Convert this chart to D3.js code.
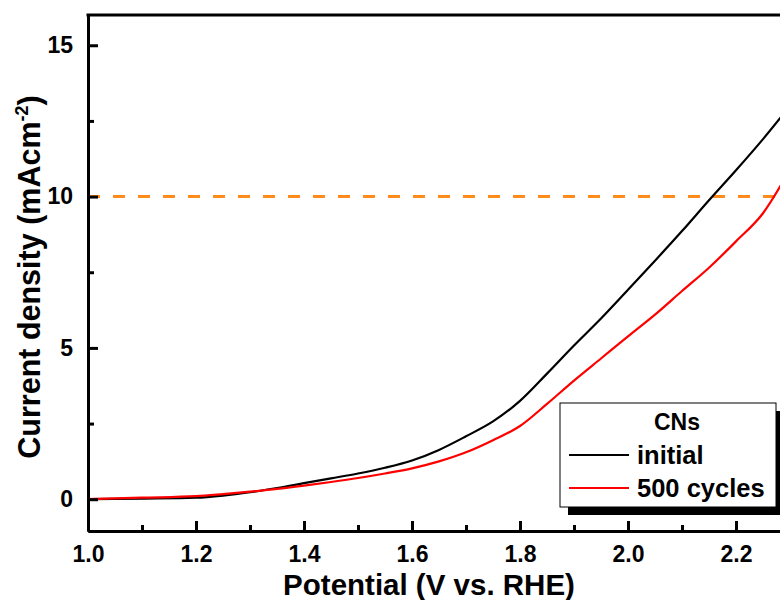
<!DOCTYPE html>
<html>
<head>
<meta charset="utf-8">
<script src="https://cdn.jsdelivr.net/npm/d3@7"></script>
<style>
	body { margin: 0; background: #fff; }
	text { font-family: Arial, 'Liberation Sans', sans-serif; font-weight: bold; }
</style>
</head>
<body>
<div id="chart"></div>
<script>
// Data
const potential = [1.00, 1.10, 1.20, 1.25, 1.30, 1.35, 1.40, 1.45, 1.50, 1.55, 1.60, 1.65, 1.70, 1.75, 1.80, 1.85, 1.90, 1.95, 2.00, 2.05, 2.10, 2.15, 2.20, 2.25, 2.30];
const initial = [0.00, 0.02, 0.05, 0.12, 0.23, 0.37, 0.53, 0.69, 0.85, 1.04, 1.28, 1.63, 2.08, 2.57, 3.25, 4.15, 5.08, 5.97, 6.92, 7.88, 8.86, 9.88, 10.87, 11.90, 13.00];
const cycles500 = [0.00, 0.05, 0.10, 0.17, 0.25, 0.34, 0.45, 0.57, 0.70, 0.85, 1.02, 1.25, 1.55, 1.95, 2.42, 3.15, 3.92, 4.65, 5.38, 6.10, 6.88, 7.65, 8.52, 9.45, 10.90];
const series = [
	{ name: 'initial', values: initial, color: '#000000' },
	{ name: '500 cycles', values: cycles500, color: '#ff0000' },
];
const xTicks = [1.0, 1.2, 1.4, 1.6, 1.8, 2.0, 2.2];
const xMinor = [1.1, 1.3, 1.5, 1.7, 1.9, 2.1];
const yTicks = [0, 5, 10, 15];
const yMinor = [2.5, 7.5, 12.5];
const refLevel = 10;
const legendTitle = 'CNs';

const width = 780;
const height = 600;
const margin = { top: 15, right: -10, bottom: 69, left: 88 };

const svg = d3.select('#chart').append('svg')
	.attr('width', width)
	.attr('height', height)
	.attr('viewBox', [0, 0, width, height]);

const x = d3.scaleLinear()
	.domain([1.0, 2.3])
	.range([margin.left, width - margin.right]);

const y = d3.scaleLinear()
	.domain([-1.05, 16])
	.range([height - margin.bottom, margin.top]);

svg.append('clipPath').attr('id', 'plot')
	.append('rect')
	.attr('x', margin.left)
	.attr('y', margin.top)
	.attr('width', width - margin.left)
	.attr('height', height - margin.bottom - margin.top);

// dashed 10 mA line
svg.append('line')
	.attr('x1', x(1.0))
	.attr('x2', width)
	.attr('y1', y(refLevel))
	.attr('y2', y(refLevel))
	.attr('stroke', '#ff8c1a')
	.attr('stroke-width', 3)
	.attr('stroke-dasharray', '12,13');

// curves
const line = d3.line()
	.x((d, i) => x(potential[i]))
	.y((d) => y(d))
	.curve(d3.curveMonotoneX);

svg.append('g')
	.attr('clip-path', 'url(#plot)')
	.selectAll('path')
	.data(series)
	.join('path')
	.attr('d', (d) => line(d.values))
	.attr('fill', 'none')
	.attr('stroke', (d) => d.color)
	.attr('stroke-width', 2.2);

// axes, ticks pointing inward
const xAxis = svg.append('g')
	.attr('transform', `translate(0,${height - margin.bottom})`)
	.call(d3.axisBottom(x).tickValues(xTicks).tickSizeInner(-10).tickSizeOuter(0).tickPadding(15).tickFormat(d3.format('.1f')));
xAxis.append('g')
	.call(d3.axisBottom(x).tickValues(xMinor).tickSizeInner(-6).tickSizeOuter(0).tickFormat(''));

const yAxis = svg.append('g')
	.attr('transform', `translate(${margin.left},0)`)
	.call(d3.axisLeft(y).tickValues(yTicks).tickSizeInner(-10).tickSizeOuter(0).tickPadding(15));
yAxis.append('g')
	.call(d3.axisLeft(y).tickValues(yMinor).tickSizeInner(-6).tickSizeOuter(0).tickFormat(''));

svg.selectAll('.domain').attr('stroke', '#000').attr('stroke-width', 3);
svg.selectAll('.tick line').attr('stroke', '#000').attr('stroke-width', 3);
svg.selectAll('.tick text').attr('font-size', 23).attr('fill', '#000');

// top frame line
svg.append('line')
	.attr('x1', margin.left - 1.5)
	.attr('x2', width)
	.attr('y1', margin.top)
	.attr('y2', margin.top)
	.attr('stroke', '#000')
	.attr('stroke-width', 3);

// axis titles
svg.append('text')
	.attr('x', 429)
	.attr('y', 595)
	.attr('text-anchor', 'middle')
	.attr('font-size', 29.5)
	.text('Potential (V vs. RHE)');

const yTitle = svg.append('text')
	.attr('transform', 'translate(40,277) rotate(-90)')
	.attr('text-anchor', 'middle')
	.attr('font-size', 30.5);
yTitle.append('tspan').text('Current density (mAcm');
yTitle.append('tspan').attr('font-size', 18).attr('dy', -12).text('-2');
yTitle.append('tspan').attr('dy', 12).text(')');

// legend
const legend = svg.append('g').attr('transform', 'translate(560,403)');
legend.append('rect')
	.attr('x', 8).attr('y', 8)
	.attr('width', 216).attr('height', 104)
	.attr('fill', '#000');
legend.append('rect')
	.attr('width', 216).attr('height', 104)
	.attr('fill', '#fff')
	.attr('stroke', '#000')
	.attr('stroke-width', 1);
legend.append('text')
	.attr('x', 117)
	.attr('y', 27)
	.attr('text-anchor', 'middle')
	.attr('font-size', 23)
	.text(legendTitle);
const item = legend.selectAll('g.item')
	.data(series)
	.join('g')
	.attr('class', 'item')
	.attr('transform', (d, i) => `translate(0,${52 + i * 33})`);
item.append('line')
	.attr('x1', 9).attr('x2', 69)
	.attr('stroke', (d) => d.color)
	.attr('stroke-width', 2.2);
item.append('text')
	.attr('x', 77)
	.attr('dy', '0.35em')
	.attr('font-size', 25.5)
	.text((d) => d.name);
</script>
</body>
</html>
